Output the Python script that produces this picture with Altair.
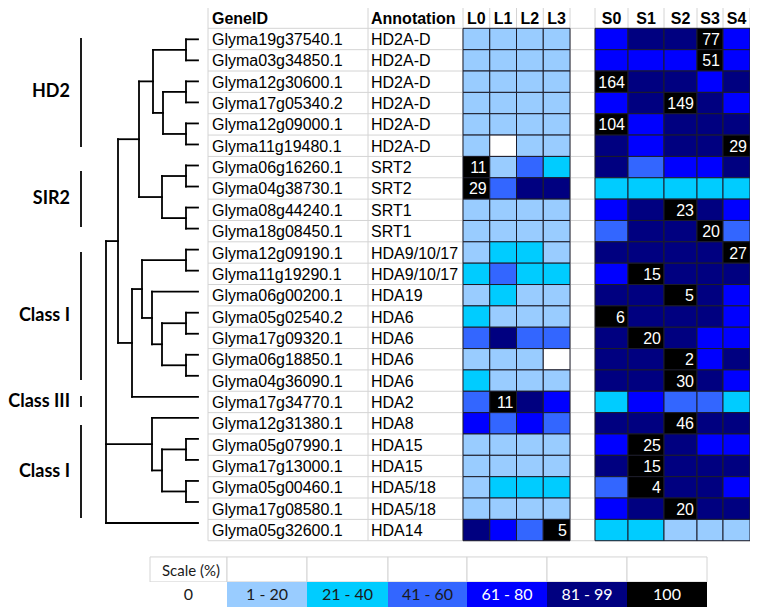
import altair as alt
import pandas as pd

# ---------------- data ----------------
genes = ["Glyma19g37540.1", "Glyma03g34850.1", "Glyma12g30600.1", "Glyma17g05340.2",
         "Glyma12g09000.1", "Glyma11g19480.1", "Glyma06g16260.1", "Glyma04g38730.1",
         "Glyma08g44240.1", "Glyma18g08450.1", "Glyma12g09190.1", "Glyma11g19290.1",
         "Glyma06g00200.1", "Glyma05g02540.2", "Glyma17g09320.1", "Glyma06g18850.1",
         "Glyma04g36090.1", "Glyma17g34770.1", "Glyma12g31380.1", "Glyma05g07990.1",
         "Glyma17g13000.1", "Glyma05g00460.1", "Glyma17g08580.1", "Glyma05g32600.1"]
annotations = ["HD2A-D", "HD2A-D", "HD2A-D", "HD2A-D", "HD2A-D", "HD2A-D", "SRT2", "SRT2",
               "SRT1", "SRT1", "HDA9/10/17", "HDA9/10/17", "HDA19", "HDA6", "HDA6", "HDA6",
               "HDA6", "HDA2", "HDA8", "HDA15", "HDA15", "HDA5/18", "HDA5/18", "HDA14"]

L_cols = ["L0", "L1", "L2", "L3"]
S_cols = ["S0", "S1", "S2", "S3", "S4"]

# level index per cell (0 = "0", 1 = "1 - 20", ... 6 = "100")
L_levels = ["1111", "1111", "1111", "1111", "1111", "1011", "6132", "6355",
            "1111", "1111", "1221", "2322", "1211", "2111", "3533", "1110",
            "2111", "3654", "4343", "1111", "1111", "1222", "1111", "5436"]
S_levels = ["45564", "44464", "65545", "45654", "64555", "54556", "53445", "22222",
            "45654", "35563", "55556", "46555", "55654", "65554", "56544", "55645",
            "55654", "24332", "55655", "46544", "56555", "36554", "45655", "22111"]
# number shown in the (single) black cell of each row
L_numbers = ["", "", "", "", "", "", "11", "29", "", "", "", "", "", "", "", "", "",
             "11", "", "", "", "", "", "5"]
S_numbers = ["77", "51", "164", "149", "104", "29", "", "", "23", "20", "27", "15",
             "5", "6", "20", "2", "30", "", "46", "25", "15", "4", "20", ""]

categories = ["0", "1 - 20", "21 - 40", "41 - 60", "61 - 80", "81 - 99", "100"]
cat_colors = ["#ffffff", "#99ccff", "#00ccff", "#3366ff", "#0000ff", "#000080", "#000000"]

groups = ["HD2", "SIR2", "Class I", "Class III", "Class I"]
group_start = [-0.05, 6.18, 9.98, 16.72, 18.08]
group_end = [5.06, 8.81, 15.97, 17.24, 22.44]

# dendrogram: (node, children, height from leaves)
tree = [
    ("A", [0, 1], 12), ("B1", [2, 3], 12), ("B2", [4, 5], 12), ("B", ["B1", "B2"], 35),
    ("C", ["A", "B"], 45), ("D1", [6, 7], 12), ("D2", [8, 9], 12), ("D", ["D1", "D2"], 36),
    ("E", ["C", "D"], 59), ("J1", [10, 11], 12), ("H1", [13, 14], 12), ("H2", [15, 16], 12),
    ("H", ["H1", "H2"], 36), ("I", [12, "H"], 46), ("J", ["J1", "I"], 56),
    ("K", ["J", 17], 66), ("F", ["E", "K"], 80), ("M1", [19, 20], 12), ("M2", [21, 22], 12),
    ("M", ["M1", "M2"], 36), ("L", [18, "M"], 46), ("R", ["F", "L", 23], 92),
]

# ---------------- layout ----------------
TABLE_L, GENE_R, ANN_R = 208, 368, 463
L_edges = [463, 489.75, 516.5, 543.25, 570]
S_edges = [595, 628, 664, 697, 723, 750]
GENE_TX, ANN_TX = 212, 371
LEAF_X = 198
GROUP_BAR_X, GROUP_TEXT_X = 81, 70
LEG_EDGES = [150, 227, 307, 388, 467, 547, 627, 707]
LEG_TOP, LEG_MID, LEG_BOT = 24.26, 25.43, 26.6
LEG_TEXT_Y, LEG_TITLE_Y, LEG_TITLE_X = 26.04, 24.93, 220
FONT = "Liberation Sans"
CAL = "Lato"
FS = 16
N = len(genes)

X = alt.Scale(domain=[8, 750], nice=False, zero=False)
Y = alt.Scale(domain=[-1.452, 26.651], reverse=True, nice=False, zero=False)


def xq(f):
    return alt.X(f"{f}:Q", scale=X, axis=None)


def yq(f):
    return alt.Y(f"{f}:Q", scale=Y, axis=None)


color_scale = alt.Scale(domain=categories, range=cat_colors)

# ---------- table grid ----------
hlines = pd.DataFrame({"x": TABLE_L, "x2": S_edges[-1], "y": [i - 0.5 for i in range(-1, N + 1)]})
vx = [TABLE_L, GENE_R, ANN_R] + L_edges[1:] + S_edges
vlines = pd.DataFrame({"x": vx, "y": -1.5, "y2": N - 0.5})
grid_h = alt.Chart(hlines).mark_rule(color="#d4d4d4", strokeWidth=1).encode(
    x=xq("x"), x2="x2:Q", y=yq("y"))
grid_v = alt.Chart(vlines).mark_rule(color="#d4d4d4", strokeWidth=1).encode(
    x=xq("x"), y=yq("y"), y2="y2:Q")

# ---------- heatmap cells ----------
rows = []
for i in range(N):
    for j, c in enumerate(L_cols):
        lev = int(L_levels[i][j])
        rows.append({"x": L_edges[j], "x2": L_edges[j + 1], "y": i - 0.5, "y2": i + 0.5,
                     "cat": categories[lev], "num": L_numbers[i] if lev == 6 else ""})
    for j, c in enumerate(S_cols):
        lev = int(S_levels[i][j])
        rows.append({"x": S_edges[j], "x2": S_edges[j + 1], "y": i - 0.5, "y2": i + 0.5,
                     "cat": categories[lev], "num": S_numbers[i] if lev == 6 else ""})
cells = pd.DataFrame(rows)
cells["yc"] = cells["y"] + 0.5
heat = alt.Chart(cells).mark_rect(stroke="#1c1c2a", strokeWidth=1).encode(
    x=xq("x"), x2="x2:Q", y=yq("y"), y2="y2:Q",
    color=alt.Color("cat:N", scale=color_scale, legend=None))
nums = alt.Chart(cells[cells["num"] != ""]).mark_text(
    align="right", baseline="middle", dx=-3, dy=1, color="white", font=FONT, fontSize=FS
).encode(x=xq("x2"), y=yq("yc"), text="num:N")

# ---------- table text ----------
gdf = pd.DataFrame({"x": GENE_TX, "y": list(range(N)), "t": genes})
adf = pd.DataFrame({"x": ANN_TX, "y": list(range(N)), "t": annotations})
txt_g = alt.Chart(gdf).mark_text(align="left", baseline="middle", dy=1, font=FONT,
                                 fontSize=FS, color="black").encode(
    x=xq("x"), y=yq("y"), text="t:N")
txt_a = alt.Chart(adf).mark_text(align="left", baseline="middle", dy=1, font=FONT,
                                 fontSize=FS, color="black").encode(
    x=xq("x"), y=yq("y"), text="t:N")
hdr_left = pd.DataFrame({"x": [GENE_TX, ANN_TX], "y": -1, "t": ["GeneID", "Annotation"]})
hdr_c = pd.DataFrame({
    "x": [(L_edges[j] + L_edges[j + 1]) / 2 for j in range(4)] +
         [(S_edges[j] + S_edges[j + 1]) / 2 for j in range(5)],
    "y": -1, "t": L_cols + S_cols})
h1 = alt.Chart(hdr_left).mark_text(align="left", baseline="middle", dy=1, font=FONT,
                                   fontSize=FS, fontWeight="bold", color="black").encode(
    x=xq("x"), y=yq("y"), text="t:N")
h2 = alt.Chart(hdr_c).mark_text(align="center", baseline="middle", dy=1, font=FONT,
                                fontSize=FS, fontWeight="bold", color="black").encode(
    x=xq("x"), y=yq("y"), text="t:N")

# ---------- dendrogram ----------
def leaf_y(i):
    return 1 + (i - 1) * 0.985


ny, nh = {}, {}
for i in range(N):
    ny[i], nh[i] = leaf_y(i), 0
segs = []
for name, ch, h in tree:
    cys = [ny[c] for c in ch]
    for c in ch:
        segs.append({"x": LEAF_X - h, "x2": LEAF_X - nh[c], "y": ny[c], "y2": ny[c]})
    segs.append({"x": LEAF_X - h, "x2": LEAF_X - h, "y": min(cys), "y2": max(cys)})
    ny[name] = (cys[0] + cys[1]) / 2 if len(ch) == 2 else (cys[0] + cys[-1]) / 2
    nh[name] = h
sdf = pd.DataFrame(segs)
dendro = alt.Chart(sdf).mark_rule(color="black", strokeWidth=1.8, strokeCap="square").encode(
    x=xq("x"), x2="x2:Q", y=yq("y"), y2="y2:Q")

# ---------- groups ----------
gr = pd.DataFrame({"t": groups, "y": group_start, "y2": group_end, "x": GROUP_BAR_X,
                   "tx": GROUP_TEXT_X})
gr["ym"] = (gr["y"] + gr["y2"]) / 2
gbars = alt.Chart(gr).mark_rule(color="#111", strokeWidth=1.9).encode(
    x=xq("x"), y=yq("y"), y2="y2:Q")
gtext = alt.Chart(gr).mark_text(align="right", baseline="middle", font=CAL, fontSize=18,
                                fontWeight="bold", color="black").encode(
    x=xq("tx"), y=yq("ym"), text="t:N")

# ---------- scale legend ----------
leg = pd.DataFrame({"cat": categories,
                    "x": LEG_EDGES[:-1], "x2": LEG_EDGES[1:]})
leg["xc"] = (leg["x"] + leg["x2"]) / 2
leg["yt"], leg["ym"], leg["yb"], leg["ytext"] = LEG_TOP, LEG_MID, LEG_BOT, LEG_TEXT_Y
leg_top = alt.Chart(leg).mark_rect(fill="white", stroke="#d4d4d4", strokeWidth=1).encode(
    x=xq("x"), x2="x2:Q", y=yq("yt"), y2="ym:Q")
leg_bot = alt.Chart(leg).mark_rect(strokeWidth=0).encode(
    x=xq("x"), x2="x2:Q", y=yq("ym"), y2="yb:Q",
    color=alt.Color("cat:N", scale=color_scale, legend=None))
dark = leg[leg["cat"].isin(categories[:4])]
light = leg[leg["cat"].isin(categories[4:])]
leg_t1 = alt.Chart(dark).mark_text(align="center", baseline="middle", font=CAL, fontSize=16,
                                   color="#1a1a1a").encode(
    x=xq("xc"), y=yq("ytext"), text="cat:N")
leg_t2 = alt.Chart(light).mark_text(align="center", baseline="middle", font=CAL, fontSize=16,
                                    color="white").encode(
    x=xq("xc"), y=yq("ytext"), text="cat:N")
ttl = pd.DataFrame({"x": [LEG_TITLE_X], "y": [LEG_TITLE_Y], "t": ["Scale (%)"]})
leg_title = alt.Chart(ttl).mark_text(align="right", baseline="middle", font=CAL,
                                     fontSize=15, color="#1a1a1a").encode(
    x=xq("x"), y=yq("y"), text="t:N")

chart = alt.layer(
    grid_h, grid_v, heat, nums, txt_g, txt_a, h1, h2, dendro, gbars, gtext,
    leg_top, leg_bot, leg_t1, leg_t2, leg_title
).properties(
    width=742, height=600, padding=0, autosize=alt.AutoSizeParams(type="none")
).configure_view(stroke=None)

chart.save("out.html", embed_options={"renderer": "svg", "actions": False})
